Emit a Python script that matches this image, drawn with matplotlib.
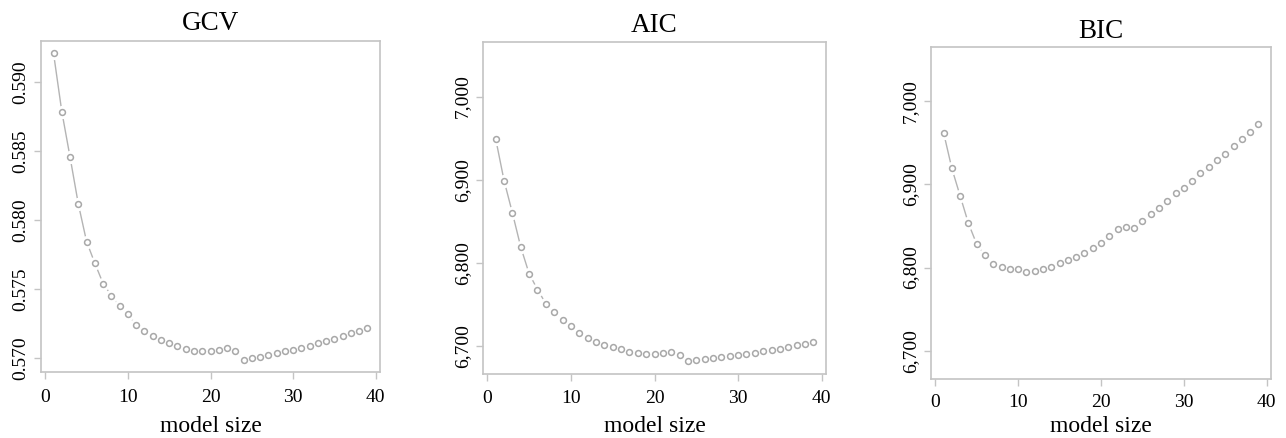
import matplotlib
matplotlib.use("Agg")
import matplotlib.pyplot as plt
from matplotlib.ticker import FuncFormatter

plt.rcParams['font.family'] = ['Liberation Serif', 'DejaVu Serif']

model_size = list(range(1, 40))

gcv = [0.59210, 0.58788, 0.58458, 0.58118, 0.57846, 0.57689, 0.57542, 0.57455,
       0.57378, 0.57318, 0.57243, 0.57195, 0.57159, 0.57130, 0.57113, 0.57089,
       0.57065, 0.57055, 0.57053, 0.57055, 0.57063, 0.57075, 0.57053, 0.56990,
       0.57000, 0.57010, 0.57024, 0.57039, 0.57053, 0.57063, 0.57077, 0.57092,
       0.57108, 0.57125, 0.57140, 0.57159, 0.57181, 0.57200, 0.57219]

aic = [6949, 6899, 6860, 6819, 6787, 6768, 6751, 6741, 6731, 6724, 6716, 6710,
       6705, 6701, 6699, 6696, 6693, 6692, 6691, 6691, 6692, 6693, 6689, 6682,
       6683, 6684, 6686, 6687, 6688, 6689, 6690, 6692, 6694, 6695, 6697, 6699,
       6701, 6703, 6705]

bic = [6962, 6919, 6886, 6853, 6828, 6815, 6804, 6801, 6798, 6798, 6795, 6796,
       6798, 6801, 6805, 6809, 6813, 6818, 6824, 6830, 6838, 6846, 6849, 6848,
       6856, 6864, 6872, 6880, 6889, 6896, 6904, 6913, 6921, 6929, 6937, 6946,
       6954, 6963, 6972]

titles = ["GCV", "AIC", "BIC"]
series = [gcv, aic, bic]
yticks = [[0.570, 0.575, 0.580, 0.585, 0.590],
          [6700, 6800, 6900, 7000],
          [6700, 6800, 6900, 7000]]
xticks = [0, 10, 20, 30, 40]
xlabel = "model size"

W, H = 1286, 438
fig = plt.figure(figsize=(W / 100, H / 100), dpi=100)

# axes boxes in pixels: left, right, top, bottom
boxes = [(41, 380, 41, 372), (483, 826, 42, 374), (931, 1271, 47, 379)]
ylims = [(0.56901, 0.59300), (6666.4, 7065.6), (6666, 7065)]
title_base = [30.5, 31.5, 38.0]
xlab_base = [431.5, 432.5, 432.5]
xpads = [7.3, 6.8, 6.0]

box_col = "#c4c4c4"
pt_col = "#a8a8a8"
ln_col = "#b4b4b4"

for i in range(3):
    l, r, t, b = boxes[i]
    ax = fig.add_axes([l / W, 1 - b / H, (r - l) / W, (b - t) / H])
    x = model_size
    y = series[i]
    ax.plot(x, y, color=ln_col, lw=1.0, zorder=1)
    ax.plot(x, y, ls="none", marker="o", ms=8.5, mfc="white", mec="white", zorder=2)
    ax.plot(x, y, ls="none", marker="o", ms=4.2, mfc="none", mec=pt_col, mew=1.1, zorder=3)
    ax.set_xlim(-0.52, 40.52)
    ax.set_ylim(*ylims[i])
    ax.set_xticks(xticks)
    ax.set_yticks(yticks[i])
    if i == 0:
        ax.yaxis.set_major_formatter(FuncFormatter(lambda v, p: f"{v:.3f}"))
    else:
        ax.yaxis.set_major_formatter(FuncFormatter(lambda v, p: f"{int(round(v)):,}"))
    for s in ax.spines.values():
        s.set_color(box_col)
        s.set_linewidth(1.2)
    ax.tick_params(axis="both", direction="out", length=5, width=1.0, color=box_col,
                   labelsize=14, labelcolor="black")
    ax.tick_params(axis="x", pad=xpads[i])
    ax.tick_params(axis="y", pad=3.5)
    for lab in ax.get_yticklabels():
        lab.set_rotation(90)
        lab.set_va("center")
    cx = (l + r) / 2 / W
    fig.text(cx, 1 - xlab_base[i] / H, xlabel, ha="center", va="baseline", fontsize=17)
    fig.text(cx, 1 - title_base[i] / H, titles[i], ha="center", va="baseline",
             fontsize=19.5)

fig.savefig("out.png", dpi=100)
